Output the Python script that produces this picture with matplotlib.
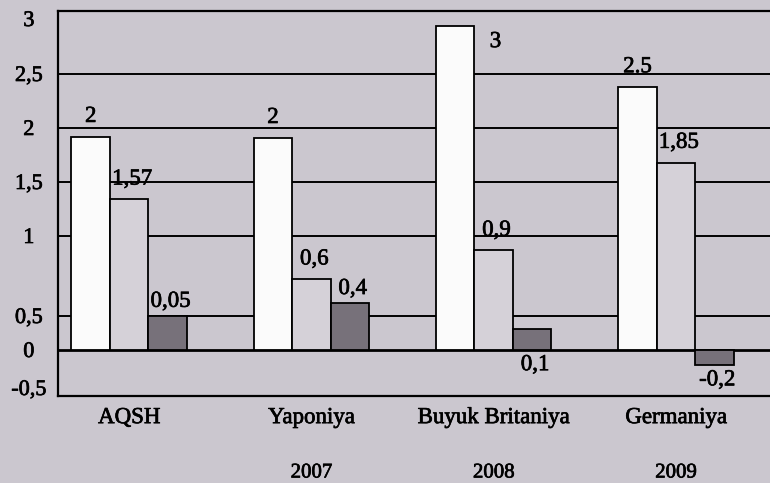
import numpy as np
import matplotlib
matplotlib.use("Agg")
import matplotlib.pyplot as plt
import matplotlib.patheffects as pe

# ---------------- data ----------------
countries = ["AQSH", "Yaponiya", "Buyuk Britaniya", "Germaniya"]
years = ["", "2007", "2008", "2009"]

# printed value labels
series1_labels = ["2", "2", "3", "2.5"]
series2_labels = ["1,57", "0,6", "0,9", "1,85"]
series3_labels = ["0,05", "0,4", "0,1", "-0,2"]

# bar heights as drawn in the picture (read on the chart's own axis)
series1 = [1.92, 1.91, 2.94, 2.38]
series2 = [1.34, 0.73, 0.91, 1.68]
series3 = [0.50, 0.58, 0.31, -0.20]

yticks = [-0.5, 0, 0.5, 1, 1.5, 2, 2.5, 3]
ytick_labels = ["-0,5", "0", "0,5", "1", "1,5", "2", "2,5", "3"]
grid_values = [0.5, 1, 1.5, 2, 2.5]

# ---------------- layout / style ----------------
W, H = 770, 483
BG = "#cbc7cf"
WHITE = "#fbfbfb"
LIGHT = "#d5d1d8"
DARK = "#77717a"
FONT = "Liberation Serif"
STROKE = [pe.withStroke(linewidth=0.5, foreground="black")]

# the printed axis is not linear: anchor points (value -> pixel row)
AXIS_VALS = np.array([-0.6, -0.5, 0, 0.5, 1, 1.5, 2, 2.5, 3, 3.07])
AXIS_PIX = np.array([396, 388, 350, 316, 236, 182, 128, 74, 19, 11], dtype=float)


def fwd(v):
    return np.interp(v, AXIS_VALS, -AXIS_PIX)


def inv(p):
    return np.interp(p, -AXIS_PIX, AXIS_VALS)


plt.rcParams["font.family"] = [FONT, "DejaVu Serif"]

fig = plt.figure(figsize=(W / 100, H / 100), dpi=100)
fig.patch.set_facecolor(BG)

left_px, right_px = 58, 780
top_px, bottom_px = 11, 396
ax = fig.add_axes([left_px / W, 1 - bottom_px / H,
                   (right_px - left_px) / W, (bottom_px - top_px) / H])
ax.set_facecolor(BG)
ax.set_yscale("function", functions=(fwd, inv))
ax.set_ylim(AXIS_VALS[0], AXIS_VALS[-1])

x0, step = 129.2, 182.25
ax.set_xlim((left_px - x0) / step, (right_px - x0) / step)

x = np.arange(len(countries))
bw = 38.5 / step

for g in grid_values:
    ax.axhline(g, color="black", lw=1.4, zorder=1)
ax.axhline(0, color="black", lw=2.0, zorder=1)

ax.bar(x - bw, series1, bw, color=WHITE, edgecolor="black", lw=1.3, zorder=2)
ax.bar(x, series2, bw, color=LIGHT, edgecolor="black", lw=1.3, zorder=2)
ax.bar(x + bw, series3, bw, color=DARK, edgecolor="black", lw=1.3, zorder=2)

LBL = 16.5
for xi, h, t in zip(x - bw, series1, series1_labels):
    if h == max(series1):
        ax.annotate(t, (xi + bw / 2, h), xytext=(11, -11.5), textcoords="offset points",
                    ha="left", va="center", fontsize=LBL, path_effects=STROKE)
    else:
        ax.annotate(t, (xi, h), xytext=(0, 7), textcoords="offset points",
                    ha="center", va="bottom", fontsize=LBL, path_effects=STROKE)

for xi, h, t in zip(x, series2, series2_labels):
    ax.annotate(t, (xi, h), xytext=(2, 7), textcoords="offset points",
                ha="center", va="bottom", fontsize=LBL, path_effects=STROKE)

dark_label_below = [False, False, True, True]
for xi, h, t, below in zip(x + bw, series3, series3_labels, dark_label_below):
    if below:
        ax.annotate(t, (xi, min(h, 0)), xytext=(2, -3), textcoords="offset points",
                    ha="center", va="top", fontsize=LBL, path_effects=STROKE)
    else:
        ax.annotate(t, (xi, h), xytext=(2, 3), textcoords="offset points",
                    ha="center", va="bottom", fontsize=LBL, path_effects=STROKE)

# axes frame
for s in ["left", "top", "bottom"]:
    ax.spines[s].set_color("black")
    ax.spines[s].set_linewidth(1.6)
ax.spines["right"].set_visible(False)

ax.set_yticks(yticks)
ax.set_yticklabels(ytick_labels, fontsize=16, ha="center")
ax.tick_params(axis="y", length=0, pad=21)
ax.yaxis.set_minor_locator(matplotlib.ticker.NullLocator())

ax.set_xticks(x)
ax.set_xticklabels(countries, fontsize=16.5)
ax.tick_params(axis="x", length=0, pad=8)

for lab in ax.get_xticklabels() + ax.get_yticklabels():
    lab.set_path_effects(STROKE)

for xi, yr in zip(x, years):
    if yr:
        ax.text(xi, -0.2, yr, transform=ax.get_xaxis_transform(),
                ha="center", va="center", fontsize=15, path_effects=STROKE)

fig.savefig("out.png", dpi=100, facecolor=BG)
